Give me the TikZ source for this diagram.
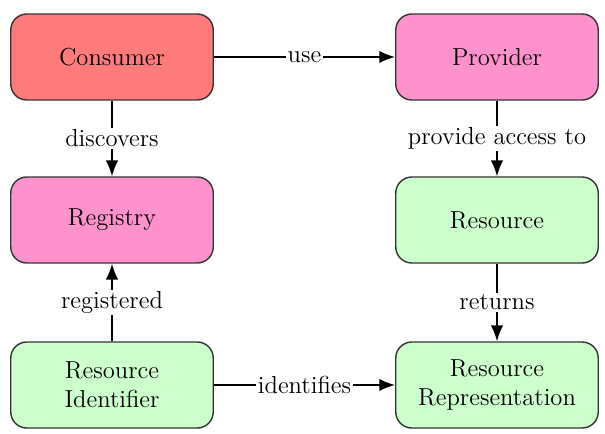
\documentclass[tikz,border=0pt]{standalone}
\usetikzlibrary{arrows.meta}

\definecolor{consred}{RGB}{255,122,122}
\definecolor{provpink}{RGB}{255,146,204}
\definecolor{resgreen}{RGB}{204,255,204}

\begin{document}
\begin{tikzpicture}[x=0.02cm, y=-0.02cm,
    every node/.style={font=\fontsize{14}{16.5}\selectfont},
    box/.style={draw=black!80, line width=0.8pt, rounded corners=0.32cm,
      minimum width=4.05cm, minimum height=1.72cm, align=center},
    link/.style={line width=0.9pt, -{Latex[length=9pt,width=7pt]}},
    lbl/.style={midway, fill=white, inner sep=1pt}]
    \useasboundingbox (0,0) rectangle (605,433);

    \node[box, fill=consred] (consumer) at (112,57) {Consumer};
    \node[box, fill=provpink] (provider) at (497,57) {Provider};
    \node[box, fill=provpink] (registry) at (112,220) {Registry};
    \node[box, fill=resgreen] (resource) at (497,220) {Resource};
    \node[box, fill=resgreen] (resid) at (112,385) {Resource\\Identifier};
    \node[box, fill=resgreen] (resrep) at (497,385) {Resource\\Representation};

    \draw[link] (consumer) -- node[lbl]{use} (provider);
    \draw[link] (consumer) -- node[lbl]{discovers} (registry);
    \draw[link] (provider) -- node[lbl]{provide access to} (resource);
    \draw[link] (resid) -- node[lbl]{registered} (registry);
    \draw[link] (resource) -- node[lbl]{returns} (resrep);
    \draw[link] (resid) -- node[lbl]{identifies} (resrep);

  \end{tikzpicture}
\end{document}
